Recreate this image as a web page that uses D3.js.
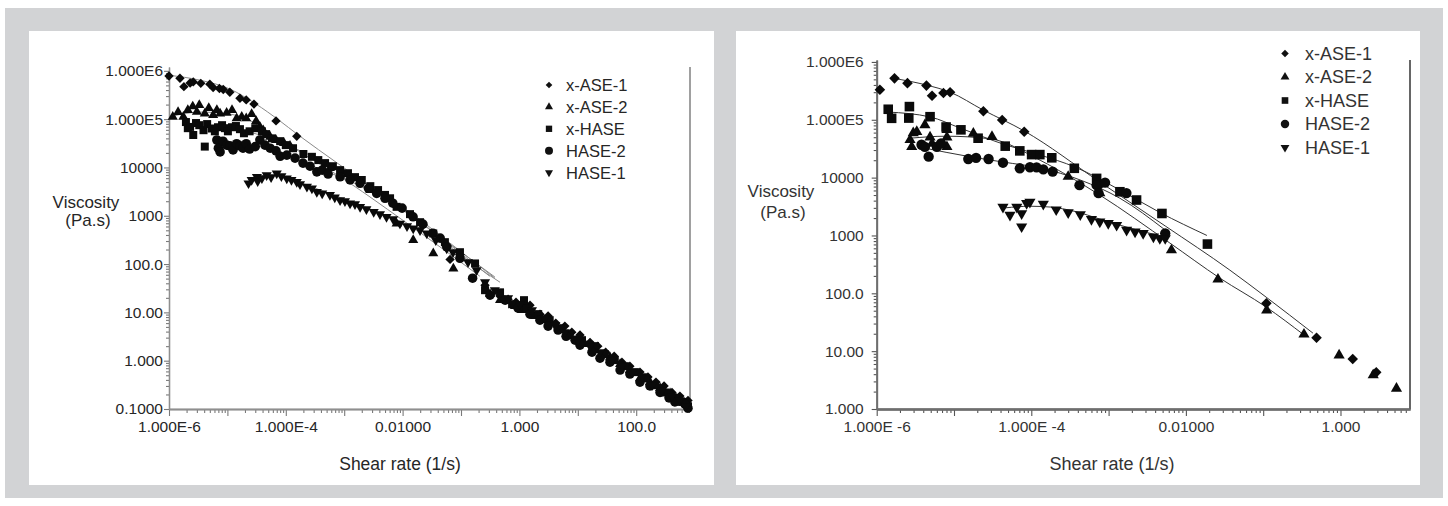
<!DOCTYPE html>
<html>
<head>
<meta charset="utf-8">
<script src="https://cdn.jsdelivr.net/npm/d3@7"></script>
<style>
  body { margin: 0; background: #fff; }
  svg { display: block; }
  text { font-family: "Liberation Sans", Arial, Helvetica, sans-serif; }
</style>
</head>
<body>
<svg id="fig" width="1448" height="506"></svg>
<script>
// ---- data: [shear rate (1/s), viscosity (Pa.s)] ----
var seriesNames = ["x-ASE-1", "x-ASE-2", "x-HASE", "HASE-2", "HASE-1"];

// left panel
var leftAse1 = [[1.0e-6,7.8e5],[1.54e-6,7.0e5],[1.8e-6,4.7e5],[2.3e-6,5.6e5],[2.6e-6,5.9e5],[3.5e-6,5.5e5],
  [5.0e-6,5.3e5],[5.7e-6,4.5e5],[7.3e-6,4.3e5],[8.5e-6,4.1e5],[1.1e-5,3.6e5],[1.64e-5,2.7e5],[2.1e-5,2.5e5],
  [2.85e-5,2.05e5],[6.8e-5,9.2e4],[1.54e-4,4.4e4],[0.065,125],[0.258,36.6],[0.466,21.7],[0.64,18.8],[0.875,16.3],
  [1.2,13.5],[1.52,14.1],[2.25,9.2],[3.1,8.4],[4.2,6.0],[6.0,5.2],[7.9,3.9],[10.9,3.4],[16.2,2.4],[22,2.0],
  [30,1.5],[42,1.24],[57,0.93],[78,0.77],[116,0.58],[159,0.46],[218,0.36],[300,0.30],[410,0.22],[560,0.185],
  [770,0.15]];
var leftAse2 = [[1.16e-6,1.12e5],[1.43e-6,1.4e5],[1.76e-6,1.12e5],[2.1e-6,1.54e5],[2.55e-6,1.83e5],[3.3e-6,1.95e5],
  [3.0e-6,1.42e5],[4.1e-6,1.31e5],[4.8e-6,1.69e5],[5.7e-6,1.21e5],[6.6e-6,1.54e5],[7.5e-6,1.31e5],[9.7e-6,1.35e5],
  [1.2e-5,1.54e5],[1.44e-5,1.04e5],[1.76e-5,1.12e5],[2.1e-5,1.04e5],[2.6e-5,1.27e5],[3.1e-5,9.1e4],[3.6e-5,6.9e4],
  [4.1e-5,5.9e4],[5.4e-5,4.3e4],[6.8e-5,3.7e4],[9.3e-5,3.2e4],[1.18e-4,2.8e4],[5.7e-4,9.7e3],[2.8e-3,3.4e3],
  [7.9e-3,690],[0.0152,313],[0.0335,166],[0.074,81],[0.314,23.9],[0.466,17.9],[0.84,13.5],[1.11,11.1],[1.85,8.4],
  [2.7,6.9],[5.0,4.3],[7.3,3.2],[13.3,2.2],[19.7,1.65],[35.6,1.18],[53,0.85],[78,0.64],[116,0.43],[172,0.36],
  [256,0.27],[380,0.21],[540,0.152],[713,0.126]];
var leftXhase = [[1.95e-6,8.7e4],[2.1e-6,6.5e4],[2.3e-6,6.9e4],[2.6e-6,4.7e4],[2.9e-6,8.3e4],[3.3e-6,7.5e4],
  [3.9e-6,5.9e4],[4.1e-6,2.7e4],[4.5e-6,7.9e4],[5.4e-6,6.4e4],[6.1e-6,5.6e4],[6.9e-6,6.8e4],[8.1e-6,7.5e4],
  [9.1e-6,6.5e4],[1.02e-5,5.6e4],[1.2e-5,6.8e4],[1.4e-5,7.2e4],[1.64e-5,6.2e4],[1.92e-5,5.1e4],[2.4e-5,5.6e4],
  [3.0e-5,6.5e4],[3.9e-5,5.6e4],[4.6e-5,4.9e4],[5.8e-5,4.0e4],[8.0e-5,3.5e4],[1.0e-4,2.9e4],[1.33e-4,2.5e4],
  [2.0e-4,1.9e4],[2.8e-4,1.66e4],[3.6e-4,1.42e4],[4.7e-4,1.23e4],[6.4e-4,1.06e4],[8.5e-4,8.8e3],[1.16e-3,7.6e3],
  [1.53e-3,6.3e3],[2.0e-3,5.5e3],[2.8e-3,4.1e3],[3.8e-3,3.4e3],[5.0e-3,2.7e3],[6.1e-3,2.3e3],[7.9e-3,1.53e3],
  [0.0134,1.08e3],[0.0199,736],[0.0335,430],[0.053,284],[0.096,176],[0.174,103],[0.258,28.8],[0.466,26],
  [0.75,14.8],[1.2,17.9],[1.3,12.2],[2.1,9.2],[3.3,6.9],[5.0,4.7],[7.3,3.5],[11.8,2.66],[19.7,2.0],[29,1.36],
  [43,1.03],[64,0.77],[95,0.58],[142,0.43],[210,0.31],[311,0.22],[460,0.17],[610,0.14],[770,0.114]];
var leftHase2 = [[6.6e-6,3.7e4],[7.0e-6,2.5e4],[7.5e-6,2.1e4],[8.4e-6,3.5e4],[9.7e-6,2.9e4],[1.1e-5,2.8e4],
  [1.25e-5,2.3e4],[1.44e-5,3.1e4],[1.64e-5,2.8e4],[1.85e-5,2.5e4],[2.1e-5,3.1e4],[2.4e-5,2.4e4],[3.0e-5,2.7e4],
  [3.6e-5,3.7e4],[4.4e-5,2.9e4],[5.4e-5,2.5e4],[6.8e-5,2.2e4],[8.0e-5,1.7e4],[1.04e-4,1.8e4],[1.44e-4,1.56e4],
  [1.97e-4,1.23e4],[2.6e-4,1.06e4],[3.4e-4,8.1e3],[4.2e-4,8.8e3],[5.3e-4,7.3e3],[8.5e-4,6.4e3],[1.26e-3,5.5e3],
  [1.87e-3,4.7e3],[2.6e-3,3.7e3],[3.6e-3,2.9e3],[5.0e-3,2.3e3],[6.8e-3,1.82e3],[9.8e-3,1.44e3],[0.0151,950],
  [0.0223,670],[0.033,436],[0.044,344],[0.057,227],[0.096,132],[0.158,51],[0.314,22.7],[0.57,17.9],[0.95,12.2],
  [1.52,9.2],[2.25,6.9],[3.1,5.2],[4.6,4.3],[6.3,3.2],[9.0,2.66],[10.9,2.1],[17.5,1.5],[24,1.13],[35.6,0.93],
  [53,0.64],[78,0.53],[116,0.36],[172,0.30],[256,0.22],[365,0.17],[460,0.14],[685,0.126],[770,0.104]];
var leftHase1 = [[2.3e-5,4.7e3],[2.6e-5,5.5e3],[3.2e-5,6.4e3],[3.3e-5,5.2e3],[3.9e-5,6.0e3],[4.7e-5,6.9e3],
  [5.6e-5,6.3e3],[7.0e-5,7.5e3],[8.4e-5,6.6e3],[1.04e-4,5.9e3],[1.25e-4,5.5e3],[1.54e-4,5.0e3],[1.75e-4,4.5e3],
  [2.3e-4,4.0e3],[2.8e-4,3.7e3],[3.4e-4,3.1e3],[4.2e-4,2.9e3],[5.7e-4,2.7e3],[6.9e-4,2.4e3],[8.5e-4,2.1e3],
  [1.03e-3,2.0e3],[1.26e-3,1.8e3],[1.53e-3,1.74e3],[1.87e-3,1.53e3],[2.4e-3,1.37e3],[3.2e-3,1.2e3],[4.1e-3,1.08e3],
  [5.3e-3,950],[6.9e-3,850],[9.0e-3,690],[0.0119,610],[0.0152,546],[0.0199,504],[0.026,430],[0.037,313],
  [0.057,210],[0.073,176],[0.096,141],[0.132,110],[0.185,75],[0.258,42],[0.38,28.8],[0.64,19.7],[1.02,14.8],
  [1.64,11.1],[2.7,7.6],[4.1,5.4],[6.0,3.9],[10.1,2.66],[16.2,2.0],[24,1.5],[38.5,1.03],[57,0.77],[85,0.58],
  [126,0.48],[187,0.31],[277,0.245],[410,0.184],[560,0.152],[713,0.114]];

var leftFitAse1 = [[1e-6,8.1e5],[3.4e-6,6.4e5],[1.1e-5,4.2e5],[3.0e-5,2.1e5],[8.0e-5,9.1e4],[1.56e-4,4.9e4],
  [8.5e-4,1.12e4],[9.0e-3,1.44e3],[0.065,258],[0.38,54]];
var leftFitAse2 = [[1.12e-6,1.15e5],[3.4e-6,1.4e5],[1.1e-5,1.27e5],[2.4e-5,9.5e4],[5.4e-5,4.9e4],[1.75e-4,2.1e4],
  [1.26e-3,4.7e3],[9.0e-3,890],[0.065,160],[0.21,56]];
var leftFitXhase = [[1.88e-6,7.2e4],[7.5e-6,6.8e4],[2.4e-5,5.4e4],[8.0e-5,3.3e4],[2.6e-4,1.8e4],[1.26e-3,6.9e3],
  [9.0e-3,1.66e3],[0.065,271],[0.38,51]];
var leftFitHase2 = [[6.4e-6,2.8e4],[2.4e-5,2.8e4],[8.0e-5,2.1e4],[2.6e-4,1.12e4],[1.26e-3,5.2e3],[9.0e-3,1.5e3],
  [0.065,247],[0.31,56]];
var leftFitHase1 = [[2.3e-5,5.7e3],[5.4e-5,6.9e3],[1.18e-4,5.7e3],[3.9e-4,3.4e3],[1.87e-3,1.66e3],[9.0e-3,773],
  [0.044,313],[0.143,110],[0.466,42]];

// right panel
var rightAse1 = [[1.1e-6,3.3e5],[1.7e-6,5.2e5],[2.5e-6,4.3e5],[4.4e-6,3.9e5],[5.2e-6,2.6e5],[7.3e-6,2.9e5],
  [8.9e-6,3.0e5],[2.4e-5,1.4e5],[4.2e-5,9.9e4],[8.1e-5,6.2e4],[7.7e-4,7.4e3],[0.11,67],[0.49,17],[1.44,7.3],[2.9,4.3]];
var rightAse2 = [[2.7e-6,4.5e4],[2.84e-6,3.4e4],[2.97e-6,5.9e4],[3.3e-6,6.2e4],[4.2e-6,8.1e4],[4.9e-6,5.0e4],
  [5.2e-6,3.9e4],[8.1e-6,6.7e4],[8.1e-6,5.0e4],[8.1e-6,3.4e4],[1.78e-5,5.8e4],[3.1e-5,5.1e4],[3.0e-4,1.04e4],
  [7.7e-4,5.4e3],[6.5e-3,559],[0.026,174],[0.111,51],[0.337,19.5],[0.96,8.5],[2.65,3.85],[5.3,2.26]];
var rightXhase = [[1.41e-6,1.52e5],[1.56e-6,1.06e5],[2.65e-6,1.69e5],[2.6e-6,1.07e5],[4.9e-6,1.13e5],
  [7.9e-6,7.5e4],[1.23e-5,6.7e4],[2.05e-5,4.8e4],[4.6e-5,3.5e4],[7.1e-5,2.9e4],[1.01e-4,2.5e4],[1.29e-4,2.5e4],
  [1.84e-4,2.2e4],[3.6e-4,1.45e4],[7.0e-4,9.7e3],[1.4e-3,5.7e3],[2.3e-3,4.1e3],[4.9e-3,2.4e3],[0.019,710]];
var rightHase2 = [[3.8e-6,3.7e4],[4.2e-6,3.4e4],[4.7e-6,2.3e4],[6.0e-6,3.4e4],[6.8e-6,3.9e4],[1.53e-5,2.1e4],
  [1.93e-5,2.2e4],[2.8e-5,2.1e4],[4.3e-5,1.81e4],[7.1e-5,1.45e4],[9.6e-5,1.51e4],[1.17e-4,1.5e4],[1.43e-4,1.39e4],
  [1.89e-4,1.27e4],[4.2e-4,7.4e3],[7.0e-4,7.4e3],[9.0e-4,8.2e3],[7.4e-4,5.4e3],[1.7e-3,5.4e3],[5.4e-3,1.09e3]];
var rightHase1 = [[4.3e-5,3.1e3],[5.3e-5,2.25e3],[6.5e-5,3.1e3],[7.5e-5,1.42e3],[7.5e-5,2.4e3],[8.7e-5,3.6e3],
  [9.6e-5,3.8e3],[1.43e-4,3.5e3],[2.1e-4,2.8e3],[3.0e-4,2.5e3],[4.3e-4,2.3e3],[6.0e-4,1.9e3],[7.7e-4,1.73e3],
  [9.9e-4,1.62e3],[1.27e-3,1.51e3],[1.71e-3,1.24e3],[2.2e-3,1.16e3],[2.8e-3,1.09e3],[3.8e-3,950],[4.6e-3,890],
  [5.4e-3,890]];

var rightFitAse1 = [[1.67e-6,5.2e5],[4.35e-6,4.0e5],[8.9e-6,3.0e5],[2.37e-5,1.48e5],[8.1e-5,6.4e4],[7.7e-4,8.4e3],
  [5.4e-3,1.46e3],[0.037,252],[0.109,86],[0.44,20.5]];
var rightFitAse2 = [[2.7e-6,4.8e4],[7.9e-6,5.2e4],[2.9e-5,4.7e4],[1.3e-4,2.0e4],[3.2e-4,1.02e4],[7.7e-4,5.0e3],
  [6.2e-3,740],[0.0275,183],[0.109,58],[0.34,18.9]];
var rightFitXhase = [[1.4e-6,1.36e5],[4.9e-6,1.12e5],[1.2e-5,7.2e4],[4.6e-5,3.7e4],[1.3e-4,2.46e4],[3.7e-4,1.52e4],
  [1.4e-3,6.1e3],[4.6e-3,2.5e3],[0.0187,1.0e3]];
var rightFitHase2 = [[3.9e-6,3.3e4],[1.6e-5,2.3e4],[4.3e-5,1.86e4],[1.3e-4,1.47e4],[4.3e-4,9.1e3],[1.4e-3,4.4e3],
  [5.4e-3,1.24e3]];
var rightFitHase1 = [[4.6e-5,3.0e3],[9.6e-5,3.2e3],[1.75e-4,3.1e3],[3.7e-4,2.6e3],[7.7e-4,1.92e3],[1.9e-3,1.34e3],
  [5.4e-3,940]];

// tick labels
var leftYTicks = [0.1, 1, 10, 100, 1e3, 1e4, 1e5, 1e6];
var leftYLabels = ["0.1000", "1.000", "10.00", "100.0", "1000", "10000", "1.000E5", "1.000E6"];
var leftXTicks = [1e-6, 1e-4, 1e-2, 1, 100];
var leftXLabels = ["1.000E-6", "1.000E-4", "0.01000", "1.000", "100.0"];
var rightYTicks = [1, 10, 100, 1e3, 1e4, 1e5, 1e6];
var rightYLabels = ["1.000", "10.00", "100.0", "1000", "10000", "1.000E5", "1.000E6"];
var rightXTicks = [1e-6, 1e-4, 1e-2, 1];
var rightXLabels = ["1.000E -6", "1.000E -4", "0.01000", "1.000"];

// ---- drawing ----
var svg = d3.select("#fig");
svg.append("rect").attr("x", 5).attr("y", 8).attr("width", 1438).attr("height", 490).attr("fill", "#d2d3d5");
svg.append("rect").attr("x", 29).attr("y", 31).attr("width", 685).attr("height", 454).attr("fill", "#fff");
svg.append("rect").attr("x", 736).attr("y", 31).attr("width", 684).attr("height", 454).attr("fill", "#fff");

var shapes = [
  { type: d3.symbolSquare, rot: 45 },
  { type: d3.symbolTriangle, rot: 0 },
  { type: d3.symbolSquare, rot: 0 },
  { type: d3.symbolCircle, rot: 0 },
  { type: d3.symbolTriangle, rot: 180 }
];

function isDecade(v) {
  var e = Math.log10(v);
  return Math.abs(e - Math.round(e)) < 1e-6;
}

function drawPanel(p) {
  var g = svg.append("g");
  var x = d3.scaleLog().domain(p.xDomain).range(p.xRange);
  var y = d3.scaleLog().domain(p.yDomain).range(p.yRange);
  var bottom = p.yRange[0];
  var left = p.xRange[0];

  // 1..9 per decade (count kept low so d3 stays on log ticks)
  var xAll = x.ticks(50), yAll = y.ticks(50);

  // x axis: minor, decade, labelled
  var gx = g.append("g").attr("transform", "translate(0," + bottom + ")");
  gx.append("g").call(d3.axisBottom(x).tickValues(xAll.filter(function(v) { return !isDecade(v); }))
    .tickSize(4).tickSizeOuter(0).tickFormat(""));
  gx.append("g").call(d3.axisBottom(x).tickValues(xAll.filter(isDecade)).tickSize(7).tickSizeOuter(0).tickFormat(""));
  gx.append("g").call(d3.axisBottom(x).tickValues(p.xTicks).tickSize(0).tickSizeOuter(0).tickPadding(12)
    .tickFormat(function(d, i) { return p.xLabels[i]; }));
  gx.selectAll(".domain").attr("stroke", p.axisColor).attr("stroke-width", p.axisWidth);
  gx.selectAll(".tick line").attr("stroke", p.tickColor).attr("stroke-width", 1.1);
  gx.selectAll(".tick text").attr("fill", p.textColor).style("font-size", p.tickFont + "px")
    .attr("dx", function(d, i) { return i === 0 ? p.firstDx : 0; });

  // y axis
  var gy = g.append("g").attr("transform", "translate(" + left + ",0)");
  gy.append("g").call(d3.axisLeft(y).tickValues(yAll.filter(function(v) { return !isDecade(v); }))
    .tickSize(3).tickSizeOuter(0).tickFormat(""));
  gy.append("g").call(d3.axisLeft(y).tickValues(p.yTicks).tickSize(5).tickSizeOuter(0).tickPadding(p.yPad)
    .tickFormat(function(d, i) { return p.yLabels[i]; }));
  gy.selectAll(".domain").attr("stroke", p.axisColor).attr("stroke-width", p.axisWidth);
  gy.selectAll(".tick line").attr("stroke", p.tickColor).attr("stroke-width", 1.1);
  gy.selectAll(".tick text").attr("fill", p.textColor).style("font-size", p.tickFont + "px");

  // right frame line
  g.append("line").attr("x1", p.xRange[1]).attr("x2", p.xRange[1])
    .attr("y1", p.yRange[1]).attr("y2", bottom)
    .attr("stroke", p.frameColor).attr("stroke-width", 2);

  // axis titles
  g.append("text").attr("x", p.yTitle[0]).attr("y", p.yTitle[1]).attr("text-anchor", "middle")
    .attr("fill", p.textColor).style("font-size", p.titleFont + "px").text("Viscosity");
  g.append("text").attr("x", p.yTitle[0] + 2).attr("y", p.yTitle[1] + p.titleGap).attr("text-anchor", "middle")
    .attr("fill", p.textColor).style("font-size", p.titleFont + "px").text("(Pa.s)");
  g.append("text").attr("x", p.xTitle[0]).attr("y", p.xTitle[1]).attr("text-anchor", "middle")
    .attr("fill", p.textColor).style("font-size", p.xTitleFont + "px").text("Shear rate (1/s)");

  // fit lines
  var line = d3.line().x(function(d) { return x(d[0]); }).y(function(d) { return y(d[1]); })
    .curve(d3.curveMonotoneX);
  g.append("g").selectAll("path").data(p.fits).enter().append("path")
    .attr("d", line).attr("fill", "none").attr("stroke", p.fitColor).attr("stroke-width", 1);

  // markers
  p.series.forEach(function(data, si) {
    var sym = d3.symbol().type(shapes[si].type).size(p.sizes[si]);
    g.append("g").selectAll("path").data(data).enter().append("path")
      .attr("d", sym)
      .attr("transform", function(d) {
        return "translate(" + x(d[0]) + "," + y(d[1]) + ") rotate(" + shapes[si].rot + ")";
      })
      .attr("fill", "#0a0a0a");
  });

  // legend
  var lg = g.append("g");
  seriesNames.forEach(function(name, i) {
    var cy = p.legend.y + i * p.legend.dy;
    var sym = d3.symbol().type(shapes[i].type).size(p.legend.sizes[i]);
    lg.append("path").attr("d", sym)
      .attr("transform", "translate(" + p.legend.x + "," + cy + ") rotate(" + shapes[i].rot + ")")
      .attr("fill", "#111");
    lg.append("text").attr("x", p.legend.x + p.legend.gap).attr("y", cy + p.legend.font * 0.36)
      .attr("fill", p.textColor).style("font-size", p.legend.font + "px").text(name);
  });
}

drawPanel({
  xDomain: [1e-6, 834], xRange: [169, 690],
  yDomain: [0.1, 1.2e6], yRange: [409, 67],
  xTicks: leftXTicks, xLabels: leftXLabels, yTicks: leftYTicks, yLabels: leftYLabels,
  firstDx: 9, yPad: 1, tickFont: 15.5, titleFont: 17, xTitleFont: 17.5,
  axisColor: "#8f8f8f", tickColor: "#7a7a7a", axisWidth: 1.3, frameColor: "#a0a0a0",
  textColor: "#262626", fitColor: "#8a8a8a",
  yTitle: [86, 207.5], titleGap: 18, xTitle: [400, 470],
  series: [leftAse1, leftAse2, leftXhase, leftHase2, leftHase1],
  fits: [leftFitAse1, leftFitAse2, leftFitXhase, leftFitHase2, leftFitHase1],
  sizes: [44, 44, 64, 72, 44],
  legend: { x: 549, y: 85, dy: 21.9, gap: 17, font: 16.5, sizes: [22, 28, 40, 50, 28] }
});

drawPanel({
  xDomain: [1e-6, 7.93], xRange: [876.7, 1410],
  yDomain: [1, 1.08e6], yRange: [409, 60],
  xTicks: rightXTicks, xLabels: rightXLabels, yTicks: rightYTicks, yLabels: rightYLabels,
  firstDx: 8, yPad: 8, tickFont: 15.5, titleFont: 17, xTitleFont: 18,
  axisColor: "#6e6e6e", tickColor: "#555", axisWidth: 1.8, frameColor: "#666",
  textColor: "#333", fitColor: "#333",
  yTitle: [781, 196.5], titleGap: 21, xTitle: [1112, 470],
  series: [rightAse1, rightAse2, rightXhase, rightHase2, rightHase1],
  fits: [rightFitAse1, rightFitAse2, rightFitXhase, rightFitHase2, rightFitHase1],
  sizes: [56, 54, 92, 84, 54],
  legend: { x: 1285, y: 53.5, dy: 23.5, gap: 20, font: 18, sizes: [28, 34, 44, 56, 34] }
});
</script>
</body>
</html>
